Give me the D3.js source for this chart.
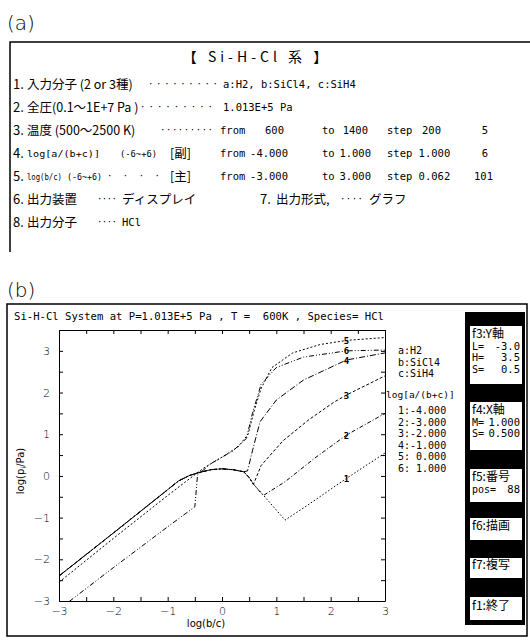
<!DOCTYPE html>
<html>
<head>
<meta charset="utf-8">
<script src="https://cdn.jsdelivr.net/npm/d3@7"></script>
<style>
  body { margin: 0; background: #fff; }
  .jp { font-family: "Noto Sans CJK JP", sans-serif; }
  .mono { font-family: "DejaVu Sans Mono", monospace; white-space: pre; }
  .sans { font-family: "DejaVu Sans", sans-serif; }
</style>
</head>
<body>
<svg id="fig" width="530" height="642"></svg>
<script>
// ---- donnees du graphique ----
const xTicks = [-3, -2, -1, 0, 1, 2, 3];
const yTicks = [-3, -2, -1, 0, 1, 2, 3];
const minorStep = 0.5;
const curveNames = ["1", "2", "3", "4", "5", "6"];
const ratioLabels = ["1:-4.000", "2:-3.000", "3:-2.000", "4:-1.000", "5: 0.000", "6: 1.000"];
const speciesLabels = ["a:H2", "b:SiCl4", "c:SiH4"];
const labelAtX = 2.29;

// partie commune (courbes superposees, trait gras)
const common = [[-3, -2.4], [-2, -1.37], [-1, -0.33], [-0.8, -0.12], [-0.6, 0.01], [-0.4, 0.09], [-0.2, 0.15], [0, 0.17], [0.2, 0.15], [0.4, 0.1]];
const curve1 = common.concat([[0.5, -0.04], [0.58, -0.2], [0.8, -0.52], [1.16, -1.06], [1.6, -0.68], [2.29, -0.06], [3, 0.55]]);
const curve2 = common.concat([[0.5, -0.04], [0.58, -0.2], [0.76, -0.47], [1.16, -0.14], [1.7, 0.42], [2.29, 0.98], [3, 1.5]]);
const curve3 = common.concat([[0.5, -0.04], [0.58, -0.2], [0.72, 0.25], [1.12, 0.84], [1.6, 1.35], [2.05, 1.76], [2.29, 1.94], [3, 2.4]]);
const curve4 = common.concat([[0.47, 0.12], [0.56, 0.6], [0.7, 1.3], [1.0, 1.82], [1.5, 2.3], [2.29, 2.78], [3, 2.95]]);
const curve5 = [[-3, -2.55], [-2, -1.5], [-1, -0.47], [-0.5, 0.03], [-0.3, 0.22], [0, 0.45], [0.3, 0.7], [0.48, 1.0], [0.6, 1.6], [0.72, 2.1], [0.92, 2.6], [1.3, 2.95], [1.8, 3.15], [2.29, 3.25], [3, 3.32]];
const curve6 = [[-3, -3.2], [-2, -2.2], [-1, -1.22], [-0.5, -0.74], [-0.45, 0.02], [-0.2, 0.3], [0.2, 0.6], [0.45, 0.9], [0.56, 1.5], [0.72, 2.2], [1.0, 2.6], [1.5, 2.85], [2.29, 3.0], [3, 3.02]];
const curves = [curve1, curve2, curve3, curve4, curve5, curve6];
const dashes = ["1.5,2", "4,2,1,2", "3,2", "6,2,1,2", "2,2", "5,2,1,2,1,2"];

const svg = d3.select("#fig");

// ================= (a) tableau des conditions =================
svg.append("text").attr("class", "sans").attr("x", 7).attr("y", 30)
  .attr("font-size", 20).attr("font-weight", 300).text("(a)");

svg.append("path").attr("d", "M10,252 V42 H530").attr("fill", "none")
  .attr("stroke", "#000").attr("stroke-width", 1.5);

svg.append("text").attr("class", "jp").attr("x", 257).attr("y", 62)
  .attr("text-anchor", "middle").attr("font-size", 14).attr("letter-spacing", 4)
  .text("【 Si-H-Cl 系 】");

const rowY = [84, 107, 130, 153, 176, 199, 222];

function jp(x, y, s, size) {
  svg.append("text").attr("class", "jp").attr("x", x).attr("y", y + 4.5)
    .attr("font-size", size || 12.5).text(s);
}
function mono(x, y, s, anchor, size) {
  return svg.append("text").attr("class", "mono").attr("x", x).attr("y", y + 4)
    .attr("font-size", size || 10.5).attr("text-anchor", anchor || "start").text(s);
}
function fit(x1, x2, y, s, size) {
  svg.append("text").attr("class", "mono").attr("x", x1).attr("y", y + 3.5)
    .attr("font-size", size).attr("textLength", x2 - x1).attr("lengthAdjust", "spacingAndGlyphs")
    .text(s);
}
function dots(x1, x2, y, n) {
  svg.append("text").attr("class", "mono").attr("x", x1).attr("y", y + 3)
    .attr("font-size", 9).attr("textLength", x2 - x1).attr("lengthAdjust", "spacing")
    .text("·".repeat(n));
}

// 1
jp(13, rowY[0], "1.", 13); jp(27, rowY[0], "入力分子 (2 or 3種)");
dots(148, 218, rowY[0], 9); mono(223, rowY[0], "a:H2, b:SiCl4, c:SiH4");
// 2
jp(13, rowY[1], "2.", 13); jp(27, rowY[1], "全圧(0.1～1E+7 Pa )");
dots(140, 213, rowY[1], 9); mono(223, rowY[1], "1.013E+5 Pa");
// 3
jp(13, rowY[2], "3.", 13); jp(27, rowY[2], "温度 (500～2500 K)");
dots(160, 213, rowY[2], 9);
mono(220, rowY[2], "from"); mono(284, rowY[2], "600", "end"); mono(322, rowY[2], "to");
mono(368, rowY[2], "1400", "end"); mono(387, rowY[2], "step"); mono(441, rowY[2], "200", "end");
mono(488, rowY[2], "5", "end");
// 4
jp(13, rowY[3], "4.", 13); fit(27, 100, rowY[3], "log[a/(b+c)]", 9.5); fit(120, 157, rowY[3], "(-6~+6)", 9.5);
jp(170, rowY[3], "[副]");
mono(220, rowY[3], "from"); mono(288, rowY[3], "-4.000", "end"); mono(322, rowY[3], "to");
mono(371, rowY[3], "1.000", "end"); mono(387, rowY[3], "step 1.000"); mono(488, rowY[3], "6", "end");
// 5
jp(13, rowY[4], "5.", 13); fit(27, 62, rowY[4], "log(b/c)", 9); fit(67, 102, rowY[4], "(-6~+6)", 9.5);
dots(107, 160, rowY[4], 4);
jp(170, rowY[4], "[主]");
mono(220, rowY[4], "from"); mono(288, rowY[4], "-3.000", "end"); mono(322, rowY[4], "to");
mono(371, rowY[4], "3.000", "end"); mono(387, rowY[4], "step 0.062"); mono(493, rowY[4], "101", "end");
// 6, 7
jp(13, rowY[5], "6.", 13); jp(27, rowY[5], "出力装置");
dots(97, 117, rowY[5], 4); jp(122, rowY[5], "ディスプレイ");
jp(260, rowY[5], "7.", 13); jp(276, rowY[5], "出力形式,");
dots(340, 363, rowY[5], 4); jp(369, rowY[5], "グラフ");
// 8
jp(13, rowY[6], "8.", 13); jp(27, rowY[6], "出力分子");
dots(97, 117, rowY[6], 4); mono(122, rowY[6], "HCl");

// ================= (b) graphique =================
svg.append("text").attr("class", "sans").attr("x", 7).attr("y", 297)
  .attr("font-size", 20).attr("font-weight", 300).text("(b)");

svg.append("rect").attr("x", 7).attr("y", 304).attr("width", 520).attr("height", 332)
  .attr("fill", "none").attr("stroke", "#000").attr("stroke-width", 1.5);

svg.append("text").attr("class", "mono").attr("x", 14).attr("y", 320)
  .attr("font-size", 10.5).attr("textLength", 370).attr("lengthAdjust", "spacingAndGlyphs")
  .text("Si-H-Cl System at P=1.013E+5 Pa , T =  600K , Species= HCl");

const x = d3.scaleLinear().domain([-3, 3]).range([59, 385]);
const y = d3.scaleLinear().domain([-3, 3.5]).range([601, 330]);

const minorX = d3.range(-3, 3 + 1e-9, minorStep);
const minorY = d3.range(-3, 3.5 + 1e-9, minorStep);

const g = svg.append("g").attr("stroke-width", 1);

// cadre du trace avec graduations vers l'interieur
g.append("g").attr("transform", "translate(0," + y(-3) + ")")
  .call(d3.axisBottom(x).tickValues(minorX).tickSizeInner(-4).tickSizeOuter(0).tickFormat(""));
g.append("g").attr("transform", "translate(0," + y(3.5) + ")")
  .call(d3.axisTop(x).tickValues(minorX).tickSizeInner(-4).tickSizeOuter(0).tickFormat(""));
g.append("g").attr("transform", "translate(" + x(-3) + ",0)")
  .call(d3.axisLeft(y).tickValues(minorY).tickSizeInner(-4).tickSizeOuter(0).tickFormat(""));
g.append("g").attr("transform", "translate(" + x(3) + ",0)")
  .call(d3.axisRight(y).tickValues(minorY).tickSizeInner(-4).tickSizeOuter(0).tickFormat(""));

// etiquettes des graduations
const axX = g.append("g").attr("transform", "translate(0," + y(-3) + ")")
  .call(d3.axisBottom(x).tickValues(xTicks).tickSize(0).tickPadding(6).tickFormat(d3.format("d")));
const axY = g.append("g").attr("transform", "translate(" + x(-3) + ",0)")
  .call(d3.axisLeft(y).tickValues(yTicks).tickSize(0).tickPadding(9).tickFormat(d3.format("d")));
[axX, axY].forEach(a => {
  a.select(".domain").remove();
  a.selectAll("text").attr("font-family", "DejaVu Sans").attr("font-size", 11).attr("font-weight", 300);
});
g.selectAll(".domain").attr("stroke", "#000");

svg.append("text").attr("class", "sans").attr("x", 206).attr("y", 627)
  .attr("text-anchor", "middle").attr("font-size", 10).text("log(b/c)");

const ylab = svg.append("text").attr("class", "sans")
  .attr("transform", "translate(24,471) rotate(-90)")
  .attr("text-anchor", "middle").attr("font-size", 10);
ylab.append("tspan").text("log(p");
ylab.append("tspan").attr("font-size", 7).attr("dy", 2).text("i");
ylab.append("tspan").attr("dy", -2).text("/Pa)");

// courbes
svg.append("clipPath").attr("id", "clip").append("rect")
  .attr("x", x(-3)).attr("y", y(3.5)).attr("width", x(3) - x(-3)).attr("height", y(-3) - y(3.5));

const line = d3.line().x(d => x(d[0])).y(d => y(d[1]));
svg.append("g").attr("clip-path", "url(#clip)")
  .selectAll("path").data(curves).enter().append("path")
  .attr("d", line)
  .attr("fill", "none").attr("stroke", "#000").attr("stroke-width", 1)
  .attr("stroke-dasharray", (d, i) => dashes[i]);

// numero de chaque courbe
function valueAt(c, xv) {
  for (let i = 1; i < c.length; i++) {
    if (c[i][0] >= xv) {
      const t = (xv - c[i - 1][0]) / (c[i][0] - c[i - 1][0]);
      return c[i - 1][1] + t * (c[i][1] - c[i - 1][1]);
    }
  }
  return c[c.length - 1][1];
}
svg.selectAll(".clab").data(curves).enter().append("text")
  .attr("class", "mono")
  .attr("x", x(labelAtX)).attr("y", d => y(valueAt(d, labelAtX)) + 3.5)
  .attr("text-anchor", "middle").attr("font-size", 9).attr("font-weight", "bold")
  .text((d, i) => curveNames[i]);

// legende
svg.selectAll(".sp").data(speciesLabels).enter().append("text")
  .attr("class", "mono").attr("x", 398).attr("y", (d, i) => 354 + i * 11.5)
  .attr("font-size", 10).text(d => d);
mono(386, 394, "log[a/(b+c)]", "start", 9.5);
svg.selectAll(".rl").data(ratioLabels).enter().append("text")
  .attr("class", "mono").attr("x", 398).attr("y", (d, i) => 414 + i * 11.6)
  .attr("font-size", 10).text(d => d);

// panneau des touches de fonction
svg.append("rect").attr("x", 465).attr("y", 312).attr("width", 60).attr("height", 313).attr("fill", "#000");
const keys = [
  { top: 326, h: 58, rows: [["f3:Y軸", ""], ["L=", "-3.0"], ["H=", "3.5"], ["S=", "0.5"]] },
  { top: 402, h: 48, rows: [["f4:X軸", ""], ["M=", "1.000"], ["S=", "0.500"]] },
  { top: 469, h: 33, rows: [["f5:番号", ""], ["pos=", "88"]] },
  { top: 518, h: 22, rows: [["f6:描画", ""]] },
  { top: 558, h: 20, rows: [["f7:複写", ""]] },
  { top: 597, h: 23, rows: [["f1:終了", ""]] }
];
keys.forEach(k => {
  svg.append("rect").attr("x", 470).attr("y", k.top).attr("width", 52).attr("height", k.h).attr("fill", "#fff");
  k.rows.forEach((r, i) => {
    const yy = k.top + 12 + i * 11.5 + (k.rows.length === 1 ? (k.h - 22) / 2 : 0);
    if (i === 0) {
      svg.append("text").attr("class", "jp").attr("x", 472).attr("y", yy)
        .attr("font-size", 12).text(r[0]);
    } else {
      svg.append("text").attr("class", "mono").attr("x", 472).attr("y", yy)
        .attr("font-size", 10).text(r[0]);
      svg.append("text").attr("class", "mono").attr("x", 520).attr("y", yy)
        .attr("font-size", 10.5).attr("text-anchor", "end").text(r[1]);
    }
  });
});
</script>
</body>
</html>
